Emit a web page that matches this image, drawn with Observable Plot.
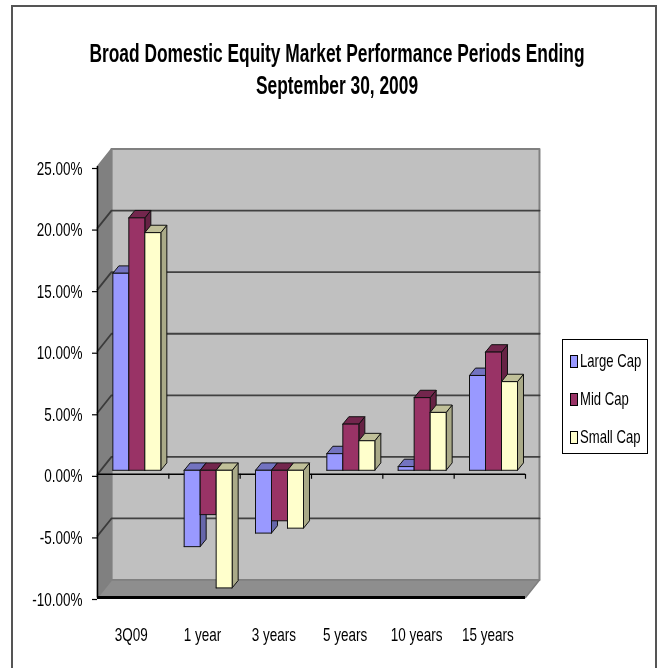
<!DOCTYPE html>
<html>
<head>
<meta charset="utf-8">
<script src="https://cdn.jsdelivr.net/npm/d3@7"></script>
<script src="https://cdn.jsdelivr.net/npm/@observablehq/plot@0.6"></script>
<style>
  html, body { margin: 0; background: #fff; }
  body { width: 660px; height: 668px; overflow: hidden; position: relative;
         font-family: "Liberation Sans", Arial, sans-serif; color: #000; }
  #frame { position: absolute; left: 11px; top: 5px; width: 642px; height: 680px; border: 2px solid #555; pointer-events: none; }
  #title { position: absolute; left: -113px; top: 37px; width: 900px; text-align: center; font-weight: bold; font-size: 26px; line-height: 32px; transform: scaleX(0.668); transform-origin: 450px 0; white-space: nowrap; filter: blur(0.3px); }
  #chart { position: absolute; left: 0; top: 140px; }
  #chart svg { display: block; filter: blur(0.4px); }
  #legend { position: absolute; left: 562px; top: 339px; width: 84px; height: 113px; border: 1.5px solid #000; background: #fff; font-size: 19px; }
  #legend div { position: absolute; left: 7px; display: flex; align-items: center; height: 20px; white-space: nowrap; }
  #legend i { display: inline-block; width: 6px; height: 11px; border: 1px solid #000; margin-right: 2px; flex: none; }
  #legend span { display: inline-block; transform: scaleX(0.69); transform-origin: 0 50%; }
</style>
</head>
<body>
<div id="frame"></div>
<div id="title">Broad Domestic Equity Market Performance Periods Ending<br>September 30, 2009</div>
<div id="chart"></div>
<div id="legend"></div>
<script>
const categories = ["3Q09", "1 year", "3 years", "5 years", "10 years", "15 years"];
const seriesNames = ["Large Cap", "Mid Cap", "Small Cap"];
const largeCap = [16.0, -6.2, -5.1, 1.35, 0.3, 7.7];
const midCap = [20.5, -3.6, -4.1, 3.75, 5.9, 9.6];
const smallCap = [19.3, -9.55, -4.7, 2.4, 4.7, 7.2];
const yTicks = [-10, -5, 0, 5, 10, 15, 20, 25];

const seriesValues = [largeCap, midCap, smallCap];
const frontColors = ["#9999FF", "#993366", "#FFFFCC"];
const topColors = ["#7373C0", "#73264D", "#C0C099"];
const sideColors = ["#6666AA", "#662244", "#AAAA88"];

// Depth of the fake 3D box and of the bars, in data units of the x and y scales.
const wallDx = 0.196, wallDy = 1.42;
const barDx = 0.084, barDy = 0.6;
const planeDx = 0.05, planeDy = 0.33;
const barStart = 0.165, barWidth = 0.2243;

const polys = [];
function poly(id, fill, stroke, pts) {
  pts.concat([pts[0]]).forEach(([x, y]) => polys.push({id, fill, stroke, x, y}));
}

// Bars, painted left to right so that nearer faces cover the ones before them.
categories.forEach((c, i) => {
  seriesValues.forEach((vals, s) => {
    const v = vals[i];
    const x0 = i + planeDx + barStart + s * barWidth, x1 = x0 + barWidth;
    const yTop = Math.max(v, 0) + planeDy, yBot = Math.min(v, 0) + planeDy;
    const id = c + s;
    poly(id + "side", sideColors[s], "#111", [[x1, yBot], [x1 + barDx, yBot + barDy], [x1 + barDx, yTop + barDy], [x1, yTop]]);
    poly(id + "top", topColors[s], "#111", [[x0, yTop], [x0 + barDx, yTop + barDy], [x1 + barDx, yTop + barDy], [x1, yTop]]);
    poly(id + "front", frontColors[s], "#111", [[x0, yBot], [x0, yTop], [x1, yTop], [x1, yBot]]);
  });
});

const grid = yTicks.slice(1, -1).flatMap(t => [
  {t, x: 0, y: t}, {t, x: wallDx, y: t + wallDy}, {t, x: 6 + wallDx, y: t + wallDy}
]);

const plot = Plot.plot({
  width: 660, height: 528,
  marginLeft: 97, marginRight: 135, marginTop: 26, marginBottom: 71,
  x: {type: "linear", domain: [0, 6], axis: null},
  y: {type: "linear", domain: [-10, 25], axis: null},
  color: {type: "identity"},
  style: {background: "transparent", fontFamily: "'Liberation Sans',Arial,sans-serif", overflow: "visible"},
  marks: [
    // back wall, left wall, floor
    Plot.line([[wallDx, -10 + wallDy], [wallDx, 25 + wallDy], [6 + wallDx, 25 + wallDy], [6 + wallDx, -10 + wallDy], [wallDx, -10 + wallDy]],
      {fill: "#C0C0C0", stroke: "#808080", strokeWidth: 2}),
    Plot.line([[0, -10], [0, 25], [wallDx, 25 + wallDy], [wallDx, -10 + wallDy], [0, -10]],
      {fill: "#808080", stroke: "#808080"}),
    Plot.line([[0, -10], [wallDx, -10 + wallDy], [6 + wallDx, -10 + wallDy], [6, -10], [0, -10]],
      {fill: "#8E8E8E", stroke: "#808080"}),
    Plot.line(grid, {x: "x", y: "y", z: "t", stroke: "#333", strokeWidth: 1.8, strokeOpacity: 0.9}),
    // front axes
    Plot.ruleX([0], {y1: -10, y2: 25, stroke: "#000", strokeWidth: 1.5}),
    Plot.ruleY([0], {x1: 0, x2: 6, stroke: "#000", strokeWidth: 1.5}),
    Plot.ruleY([-10], {x1: 0, x2: 6, stroke: "#000", strokeWidth: 3}),
    Plot.ruleX(d3.range(0, 7), {y1: 0, y2: -0.4, stroke: "#000", strokeWidth: 1.2}),
    Plot.axisY({ticks: yTicks, tickFormat: d => d.toFixed(2) + "%", tickSize: 5, tickPadding: 10, label: null,
      fontSize: 19, stroke: "#000", strokeWidth: 1.2, dy: 2}),
    Plot.axisX({ticks: categories.map((c, i) => i + 0.5), tickFormat: d => categories[d - 0.5], tickSize: 0, tickPadding: 30, label: null,
      fontSize: 19, dx: -2}),
    // bars
    Plot.line(polys, {x: "x", y: "y", z: "id", fill: "fill", stroke: "stroke", strokeWidth: 1, curve: "linear"})
  ]
});
document.getElementById("chart").append(plot);

// No condensed face is installed, so the tick labels are narrowed to the reference's proportions.
plot.querySelectorAll("text").forEach(t => {
  const w = t.getComputedTextLength();
  t.setAttribute("textLength", w * 0.71);
  t.setAttribute("lengthAdjust", "spacingAndGlyphs");
});

const legend = document.getElementById("legend");
seriesNames.forEach((n, i) => {
  const row = document.createElement("div");
  row.style.top = (11 + i * 38) + "px";
  const sw = document.createElement("i");
  sw.style.background = frontColors[i];
  const label = document.createElement("span");
  label.textContent = n;
  row.append(sw, label);
  legend.append(row);
});
</script>
</body>
</html>
